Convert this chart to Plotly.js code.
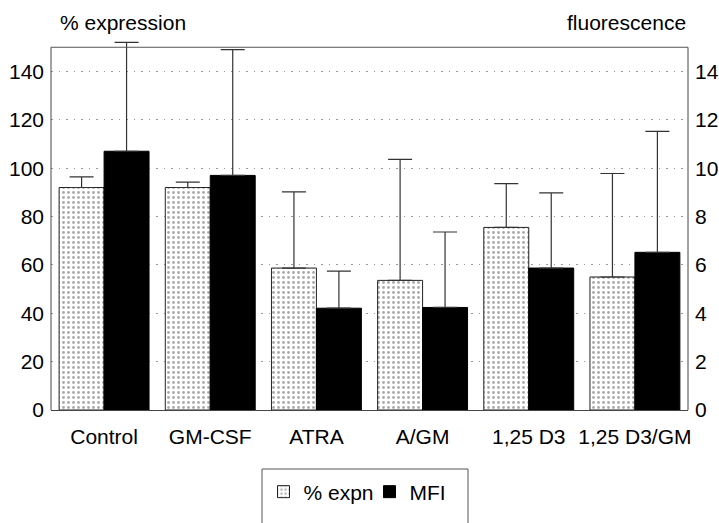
<!DOCTYPE html>
<html>
<head>
<meta charset="utf-8">
<script src="https://cdn.plot.ly/plotly-3.0.1.min.js"></script>
<style>html,body{margin:0;padding:0;background:#fff;}#chart{width:719px;height:523px;}</style>
</head>
<body>
<div id="chart"></div>
<script>
const categories = ["Control", "GM-CSF", "ATRA", "A/GM", "1,25 D3", "1,25 D3/GM"];
const expnValues = [92, 92, 58.7, 53.6, 75.5, 55.0];
const expnErrors = [4.4, 2.2, 31.5, 50.0, 18.1, 42.8];
const mfiValues = [10.7, 9.7, 4.21, 4.24, 5.87, 6.52];
const mfiErrors = [4.5, 5.2, 1.53, 3.12, 3.11, 5.0];
const leftTicks = [0, 20, 40, 60, 80, 100, 120, 140];
const rightTicks = [0, 2, 4, 6, 8, 10, 12, 14];

const fam = "Liberation Sans, Arial, sans-serif";
const font = {family: fam, size: 21, color: "#000"};
const frameTop = 150;
const plotH = 370;

const traces = [
  {
    type: "bar", name: "% expn", x: categories, y: expnValues, yaxis: "y",
    offsetgroup: "a",
    marker: {color: "#ffffff", line: {color: "#222", width: 1},
      pattern: {shape: ".", fgcolor: "#aaaaaa", bgcolor: "#ffffff", size: 5, solidity: 0.25}},
    error_y: {type: "data", symmetric: false, array: expnErrors, arrayminus: expnValues.map(() => 0),
      color: "#333", thickness: 1.2, width: 12}
  },
  {
    type: "bar", name: "MFI", x: categories, y: mfiValues, yaxis: "y2",
    offsetgroup: "b",
    marker: {color: "#000", line: {color: "#000", width: 1}},
    error_y: {type: "data", symmetric: false, array: mfiErrors, arrayminus: mfiValues.map(() => 0),
      color: "#333", thickness: 1.2, width: 12}
  }
];

const layout = {
  width: 719, height: 523,
  margin: {l: 51, r: 31, t: 40, b: 113, autoexpand: false},
  paper_bgcolor: "#fff", plot_bgcolor: "#fff",
  font: font,
  barmode: "group", bargap: 0.153, bargroupgap: 0,
  showlegend: true,
  legend: {orientation: "h", x: 0.5, xanchor: "center", y: (410 - 492) / plotH, yanchor: "middle",
    font: {family: fam, size: 21, color: "#000"}, borderwidth: 0, bgcolor: "rgba(0,0,0,0)",
    traceorder: "normal", entrywidth: 61, entrywidthmode: "pixels"},
  xaxis: {type: "category", showline: true, mirror: false, linecolor: "#444", linewidth: 1,
    ticks: "", tickfont: font, showgrid: false, ticklabelstandoff: 8},
  yaxis: {range: [0, 153], tickvals: leftTicks, ticktext: leftTicks.map(String), tickfont: font,
    showline: false, ticks: "", ticklabelstandoff: 6,
    showgrid: true, gridcolor: "#999", griddash: "1.5px,6px", gridwidth: 1, zeroline: false},
  yaxis2: {range: [0, 15.3], overlaying: "y", side: "right", tickvals: rightTicks,
    ticktext: rightTicks.map(String), tickfont: font, showline: false,
    ticks: "", ticklabelstandoff: 6, showgrid: false, zeroline: false},
  annotations: [
    {text: "% expression", xref: "paper", yref: "paper", x: 0.011, y: (410 - 22) / plotH, xanchor: "left", yanchor: "middle",
      showarrow: false, font: font},
    {text: "fluorescence", xref: "paper", yref: "paper", x: 1.0, y: (410 - 22) / plotH, xanchor: "right", yanchor: "middle",
      showarrow: false, font: font}
  ],
  shapes: [
    {type: "line", xref: "paper", yref: "y", x0: 0, x1: 1, y0: frameTop, y1: frameTop, line: {color: "#555", width: 1}},
    {type: "line", xref: "paper", yref: "y", x0: 0, x1: 0, y0: 0, y1: frameTop, line: {color: "#444", width: 1}},
    {type: "line", xref: "paper", yref: "y", x0: 1, x1: 1, y0: 0, y1: frameTop, line: {color: "#444", width: 1}},
    {type: "rect", xref: "paper", yref: "paper", x0: (262 - 51) / 637, x1: (468 - 51) / 637,
      y0: (410 - 535) / plotH, y1: (410 - 469) / plotH, line: {color: "#555", width: 1}, fillcolor: "rgba(0,0,0,0)"}
  ]
};

Plotly.newPlot("chart", traces, layout, {staticPlot: true, displayModeBar: false});
</script>
</body>
</html>
